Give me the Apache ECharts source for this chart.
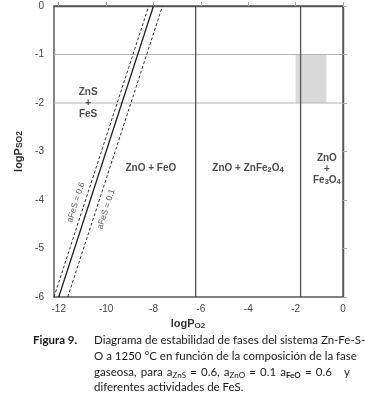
<!DOCTYPE html>
<html><head><meta charset="utf-8">
<script src="https://cdn.jsdelivr.net/npm/echarts@6/dist/echarts.min.js"></script>
<style>
html,body{margin:0;padding:0;background:#fff;}
#chart{position:absolute;left:0;top:0;width:365px;height:405px;}
.cap{position:absolute;font-family:Lato,"Open Sans",sans-serif;font-size:11.5px;color:#1a1a1a;line-height:15.8px;z-index:2;}
.j{text-align:justify;text-align-last:justify;white-space:nowrap;}
.l{text-align:left;white-space:nowrap;}
sub{font-size:8px;vertical-align:-2px;line-height:0;}
</style></head><body>
<div id="chart"></div>
<div class="cap" style="left:33px;top:332px;font-weight:bold;">Figura 9.</div>
<div class="cap" style="left:94px;top:332px;width:256px;">
<div class="j">Diagrama de estabilidad de fases del sistema Zn-Fe-S-</div>
<div class="j">O a 1250 °C en función de la composición de la fase</div>
<div class="j">gaseosa, para a<sub>ZnS</sub> = 0.6, a<sub>ZnO</sub> = 0.1 a<sub><b>FeO</b></sub> = 0.6&nbsp;&nbsp; y</div>
<div class="l">diferentes actividades de FeS.</div>
</div>
<script>
// ---- data ----
const xTicks = [-12, -10, -8, -6, -4, -2, 0];
const yTicks = [0, -1, -2, -3, -4, -5, -6];
const xRange = [-12.2, 0];
const yRange = [-6, 0];
const lineRef = [[-12, -6], [-8, 0]];
const lineFeS06 = [[-12.2, -6], [-8.2, 0]];
const lineFeS01 = [[-11.62, -6], [-7.62, 0]];
const boundaryFeO = [[-6.22, -6], [-6.22, 0]];
const boundaryFe3O4 = [[-1.79, -6], [-1.79, 0]];
const so2Levels = [-1, -2];
const shadedBox = [[-2, -1], [-0.7, -2]];
const regionLabels = [
  { name: '{b|ZnS}\n{b|+}\n{b|FeS}', value: [-10.76, -2.0] },
  { name: '{b|ZnO + FeO}', value: [-8.11, -3.35] },
  { name: '{b|ZnO + ZnFe}{s|2}{b|O}{s|4}', value: [-4.01, -3.35] },
  { name: '{b|ZnO}\n{b|+}\n{b|Fe}{s|3}{b|O}{s|4}', value: [-0.68, -3.37] }
];
const lineLabels = [
  { name: 'aFeS = 0.6', value: [-11.27, -4.05] },
  { name: 'aFeS = 0.1', value: [-10.0, -4.19] }
];

const chart = echarts.init(document.getElementById('chart'), null, { renderer: 'canvas' });
const FONT = '"Liberation Sans", Arial, sans-serif';
const richReg = {
  b: { fontFamily: FONT, fontSize: 10, fontWeight: 'bold', color: '#222', lineHeight: 11 },
  s: { fontFamily: FONT, fontSize: 7.5, fontWeight: 'bold', color: '#222', lineHeight: 11, padding: [3, 0, 0, 0] }
};
const option = {
  animation: false,
  grid: { left: 54, top: 6, width: 289, height: 291, show: true, borderColor: '#555', borderWidth: 1.4, containLabel: false },
  xAxis: {
    type: 'value', min: xRange[0], max: xRange[1],
    name: '{a|logP}{s|O2}', nameLocation: 'middle', nameGap: 20,
    nameTextStyle: { padding: [0, 21, 0, 0], rich: {
      a: { fontFamily: FONT, fontSize: 11, fontWeight: 'bold', color: '#333' },
      s: { fontFamily: FONT, fontSize: 8, fontWeight: 'bold', color: '#333', padding: [3, 0, 0, 0] } } },
    axisLine: { show: true, lineStyle: { color: '#555', width: 1.4 } },
    axisTick: { show: true, inside: true, length: 4, customValues: xTicks, lineStyle: { color: '#aaa' } },
    axisLabel: { customValues: xTicks, fontFamily: FONT, fontSize: 10, color: '#444', margin: 7 },
    splitLine: { show: false }
  },
  yAxis: {
    type: 'value', min: yRange[0], max: yRange[1], interval: 1,
    name: '{a|logP}{s|SO2}', nameLocation: 'middle', nameGap: 25,
    nameTextStyle: { rich: {
      a: { fontFamily: FONT, fontSize: 11, fontWeight: 'bold', color: '#333' },
      s: { fontFamily: FONT, fontSize: 8.5, fontWeight: 'bold', color: '#333', padding: [2, 0, 0, 0] } } },
    axisLine: { show: true, lineStyle: { color: '#555', width: 1.4 } },
    axisTick: { show: true, inside: true, length: 4, lineStyle: { color: '#aaa' } },
    axisLabel: { fontFamily: FONT, fontSize: 10, color: '#444', margin: 10 },
    splitLine: { show: false }
  },
  series: [
    { type: 'line', data: [[xRange[0], so2Levels[0]], [xRange[1], so2Levels[0]]], symbol: 'none', silent: true,
      lineStyle: { color: '#b9aebb', width: 1 }, z: 1,
      markArea: { silent: true, itemStyle: { color: '#d9d9d9' },
        data: [[{ coord: shadedBox[0] }, { coord: shadedBox[1] }]] } },
    { type: 'line', data: [[xRange[0], so2Levels[1]], [xRange[1], so2Levels[1]]], symbol: 'none', silent: true,
      lineStyle: { color: '#b9aebb', width: 1 }, z: 1 },
    { type: 'line', data: boundaryFeO, symbol: 'none', lineStyle: { color: '#555', width: 1.3 }, z: 3 },
    { type: 'line', data: boundaryFe3O4, symbol: 'none', lineStyle: { color: '#555', width: 1.3 }, z: 3 },
    { type: 'line', data: lineRef, symbol: 'none', lineStyle: { color: '#222', width: 1.3 }, z: 4 },
    { type: 'line', data: lineFeS06, symbol: 'none', lineStyle: { color: '#333', width: 1, type: [3, 2] }, z: 4 },
    { type: 'line', data: lineFeS01, symbol: 'none', lineStyle: { color: '#333', width: 1, type: [3, 2] }, z: 4 },
    { type: 'scatter', data: regionLabels, symbolSize: 1, itemStyle: { color: 'rgba(0,0,0,0)' }, z: 5, silent: true,
      label: { show: true, position: 'inside', formatter: p => p.data.name, rich: richReg } },
    { type: 'scatter', data: lineLabels, symbolSize: 1, itemStyle: { color: 'rgba(0,0,0,0)' }, z: 5, silent: true,
      label: { show: true, position: 'inside', rotate: 72, formatter: p => p.data.name,
        fontFamily: FONT, fontSize: 8.5, color: '#333' } }
  ]
};
chart.setOption(option);
</script>
</body></html>
